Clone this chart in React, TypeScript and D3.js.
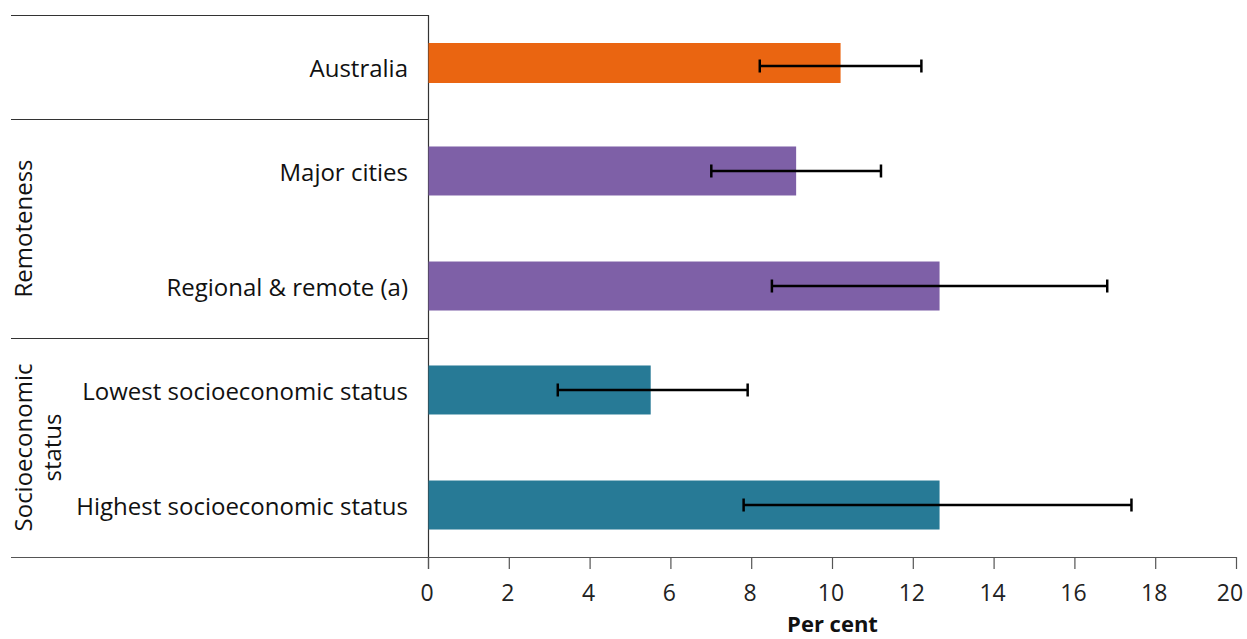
import React from "react";
import * as d3 from "d3";

const groups = ["", "Remoteness", "Socioeconomic\nstatus"];
const categories = [
  "Australia",
  "Major cities",
  "Regional & remote (a)",
  "Lowest socioeconomic status",
  "Highest socioeconomic status",
];
const categoryGroup = [0, 1, 1, 2, 2];
const values = [10.2, 9.1, 12.65, 5.5, 12.65];
const lower = [8.2, 7.0, 8.5, 3.2, 7.8];
const upper = [12.2, 11.2, 16.8, 7.9, 17.4];
const colors = ["#EA6511", "#7E60A7", "#7E60A7", "#277A96", "#277A96"];
const xTicks = [0, 2, 4, 6, 8, 10, 12, 14, 16, 18, 20];
const xTitle = "Per cent";

const W = 1247;
const H = 639;
const FONT = "'Open Sans', sans-serif";
const panelBounds = [15, 119, 338, 557];
const frameLeft = 11;
const plotLeft = 428.5;
const plotRight = 1236.5;

export default function App() {
  const x = d3.scaleLinear().domain([0, 20]).range([plotLeft, plotRight]);
  const lineColor = "#333";

  const panels = groups.map((g, gi) => {
    const cats = categories.map((c, i) => i).filter((i) => categoryGroup[i] === gi);
    const y0 = panelBounds[gi];
    const y1 = panelBounds[gi + 1];
    const band = d3
      .scaleBand<number>()
      .domain(cats)
      .range([y0, y1])
      .paddingInner(gi === 0 ? 0.6 : 0.574)
      .paddingOuter(gi === 0 ? 0.32 : 0.239)
      .align(gi === 0 ? 0.4375 : 0.5);
    const labelBand = d3
      .scaleBand<number>()
      .domain(cats)
      .range([y0, y1])
      .paddingInner(0.574)
      .paddingOuter(gi === 0 ? 0.3 : 0.239)
      .align(0.5);
    return { g, gi, cats, y0, y1, band, labelBand };
  });

  return (
    <div style={{ position: "absolute", left: 0, top: 0 }}>
      <svg width={W} height={H} style={{ display: "block", fontFamily: FONT }}>
        <rect width={W} height={H} fill="#fff" />
        {panelBounds.map((yb, i) => (
          <line
            key={"h" + i}
            x1={frameLeft}
            x2={i === panelBounds.length - 1 ? plotRight : plotLeft}
            y1={yb + 0.5}
            y2={yb + 0.5}
            stroke={i === panelBounds.length - 1 ? "#555" : lineColor}
            strokeWidth={1.2}
          />
        ))}
        <line
          x1={plotLeft}
          x2={plotLeft}
          y1={panelBounds[0]}
          y2={panelBounds[panelBounds.length - 1] + 12}
          stroke={lineColor}
          strokeWidth={1.2}
        />
        {xTicks.map((t) => (
          <g key={"t" + t}>
            <line
              x1={x(t)}
              x2={x(t)}
              y1={557}
              y2={569}
              stroke="#555"
              strokeWidth={1.2}
            />
            <text
              x={Math.min(x(t) - 1.5, W - 17)}
              y={601}
              textAnchor="middle"
              fontSize={23}
              fill="#222"
            >
              {t}
            </text>
          </g>
        ))}
        <text
          x={(plotLeft + plotRight) / 2}
          y={632}
          textAnchor="middle"
          fontSize={22}
          fontWeight="bold"
          fill="#111"
        >
          {xTitle}
        </text>
        {panels.map((p) => {
          const lines = p.g ? p.g.split("\n") : [];
          const cy = (p.y0 + p.y1) / 2;
          return (
            <g key={"p" + p.gi}>
              {lines.map((ln, li) => (
                <text
                  key={li}
                  transform={`translate(${32 + li * 29},${cy}) rotate(-90)`}
                  textAnchor="middle"
                  fontSize={24}
                  fill="#111"
                >
                  {ln}
                </text>
              ))}
              {p.cats.map((i) => {
                const by = p.band(i)!;
                const bh = p.band.bandwidth();
                const cyBar = by + bh / 2 + (p.gi === 0 ? 3 : 0);
                const ly = p.labelBand(i)! + p.labelBand.bandwidth() / 2;
                return (
                  <g key={"c" + i}>
                    <text
                      x={408}
                      y={ly}
                      dy="0.4em"
                      textAnchor="end"
                      fontSize={24}
                      fill="#111"
                    >
                      {categories[i]}
                    </text>
                    <rect
                      x={x(0)}
                      y={by}
                      width={x(values[i]) - x(0)}
                      height={bh}
                      fill={colors[i]}
                    />
                    <g stroke="#000" strokeWidth={2.5}>
                      <line x1={x(lower[i])} x2={x(upper[i])} y1={cyBar} y2={cyBar} />
                      <line x1={x(lower[i])} x2={x(lower[i])} y1={cyBar - 6.5} y2={cyBar + 6.5} />
                      <line x1={x(upper[i])} x2={x(upper[i])} y1={cyBar - 6.5} y2={cyBar + 6.5} />
                    </g>
                  </g>
                );
              })}
            </g>
          );
        })}
      </svg>
    </div>
  );
}
